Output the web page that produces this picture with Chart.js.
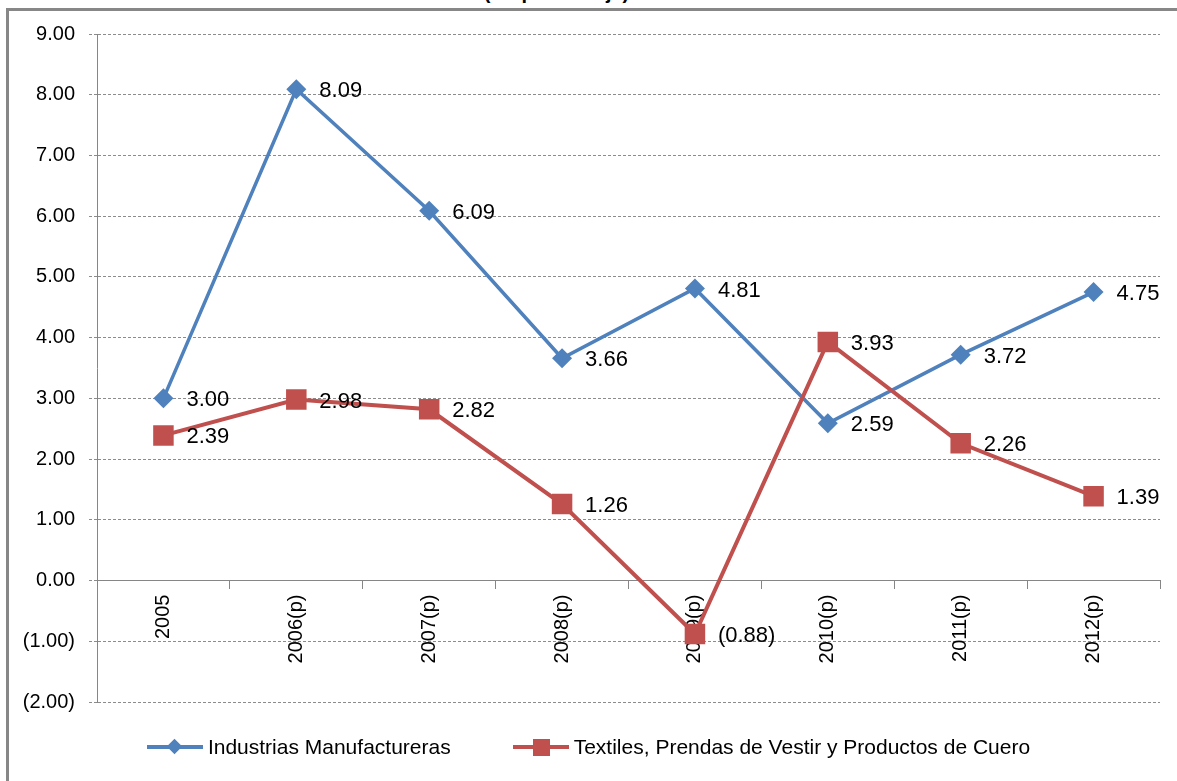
<!DOCTYPE html>
<html>
<head>
<meta charset="utf-8">
<script src="https://cdn.jsdelivr.net/npm/chart.js@4"></script>
<style>
  body { margin:0; background:#fff; overflow:hidden; font-family:"Liberation Sans", Arial, sans-serif; }
  #wrap { position:relative; width:1177px; height:781px; }
  #frame { position:absolute; left:6px; top:8px; width:1300px; height:900px; border-left:3px solid #878787; border-top:3px solid #878787; }
  #title { position:absolute; left:0; top:-18px; width:1113px; text-align:center; font-weight:bold; font-size:20px; line-height:20px; color:#000; }
  #chart { position:absolute; left:0; top:0; }
  #legend { position:absolute; left:0; top:734px; width:1177px; display:flex; justify-content:center; font-size:21px; color:#000; }
  .item { display:flex; align-items:center; margin:0 31px; }
  .sw { position:relative; width:56px; height:26px; margin-right:5px; }
  .sw .ln { position:absolute; left:0; right:0; top:11px; height:4px; }
  .sw .mk { position:absolute; }
</style>
</head>
<body>
<div id="wrap">
  <div id="frame"></div>
  <div id="title">(En porcentaje)</div>
  <canvas id="chart" width="1177" height="781"></canvas>
  <div id="legend"></div>
</div>
<script>
var years = ['2005','2006(p)','2007(p)','2008(p)','2009(p)','2010(p)','2011(p)','2012(p)'];
var manufactureras = [3.00, 8.09, 6.09, 3.66, 4.81, 2.59, 3.72, 4.75];
var textiles = [2.39, 2.98, 2.82, 1.26, -0.88, 3.93, 2.26, 1.39];
var seriesNames = ['Industrias Manufactureras', 'Textiles, Prendas de Vestir y Productos de Cuero'];

var BLUE = '#4F81BD';
var RED = '#C0504D';
var FONT = '"Liberation Sans", Arial, sans-serif';

function fmt(v){
    if (v < 0) return '(' + Math.abs(v).toFixed(2) + ')';
    return v.toFixed(2);
}

// numbers next to each point
var pointLabels = {
    id: 'pointLabels',
    afterDatasetsDraw: function(chart){
        var ctx = chart.ctx;
        ctx.save();
        ctx.font = '22px ' + FONT;
        ctx.fillStyle = '#000';
        ctx.textAlign = 'left';
        ctx.textBaseline = 'middle';
        chart.data.datasets.forEach(function(ds, i){
            var meta = chart.getDatasetMeta(i);
            meta.data.forEach(function(pt, j){
                ctx.fillText(fmt(ds.data[j]), pt.x + 23, pt.y + 2);
            });
        });
        ctx.restore();
    }
};

var ctx = document.getElementById('chart').getContext('2d');
var chart = new Chart(ctx, {
    type: 'line',
    data: {
        labels: years,
        datasets: [{
            label: seriesNames[0],
            data: manufactureras,
            borderColor: BLUE,
            backgroundColor: BLUE,
            borderWidth: 3.5,
            pointStyle: 'rectRot',
            pointRadius: 10,
            pointBorderWidth: 0,
            pointBackgroundColor: BLUE,
            tension: 0,
            order: 2
        }, {
            label: seriesNames[1],
            data: textiles,
            borderColor: RED,
            backgroundColor: RED,
            borderWidth: 4,
            pointStyle: 'rect',
            pointRadius: 14.5,
            pointBorderWidth: 0,
            pointBackgroundColor: RED,
            tension: 0,
            order: 1
        }]
    },
    options: {
        responsive: false,
        animation: false,
        layout: { padding: { left: 0, top: 34, right: 17, bottom: 79 } },
        plugins: {
            legend: { display: false },
            tooltip: { enabled: false }
        },
        scales: {
            x: {
                type: 'category',
                offset: true,
                position: { y: 0 },
                grid: { drawOnChartArea: false, drawTicks: true, tickLength: 8, color: '#868686', offset: true },
                border: { color: '#868686', width: 1 },
                ticks: {
                    minRotation: 90, maxRotation: 90, padding: 6,
                    color: '#000', font: { family: FONT, size: 20 }
                }
            },
            y: {
                min: -2, max: 9,
                afterFit: function(scale){ scale.width = 97; },
                grid: { color: '#8c8c8c', lineWidth: 1, tickLength: 8, tickBorderDash: [3, 2] },
                border: { color: '#868686', width: 1, dash: [3, 2] },
                ticks: {
                    stepSize: 1, padding: 14, color: '#000',
                    font: { family: FONT, size: 20 },
                    callback: function(v){ return fmt(v); }
                }
            }
        }
    },
    plugins: [pointLabels]
});

// legend built from the datasets (line + marker like the original)
var legend = document.getElementById('legend');
chart.data.datasets.forEach(function(ds){
    var item = document.createElement('div');
    item.className = 'item';
    var sw = document.createElement('span');
    sw.className = 'sw';
    var ln = document.createElement('span');
    ln.className = 'ln';
    ln.style.background = ds.borderColor;
    var mk = document.createElement('span');
    mk.className = 'mk';
    mk.style.background = ds.borderColor;
    if (ds.pointStyle == 'rectRot'){
        mk.style.width = '11px'; mk.style.height = '11px';
        mk.style.left = '22px'; mk.style.top = '7px';
        mk.style.transform = 'rotate(45deg)';
    } else {
        mk.style.width = '17px'; mk.style.height = '17px';
        mk.style.left = '20px'; mk.style.top = '5px';
    }
    sw.appendChild(ln);
    sw.appendChild(mk);
    var txt = document.createElement('span');
    txt.textContent = ds.label;
    item.appendChild(sw);
    item.appendChild(txt);
    legend.appendChild(item);
});
</script>
</body>
</html>
